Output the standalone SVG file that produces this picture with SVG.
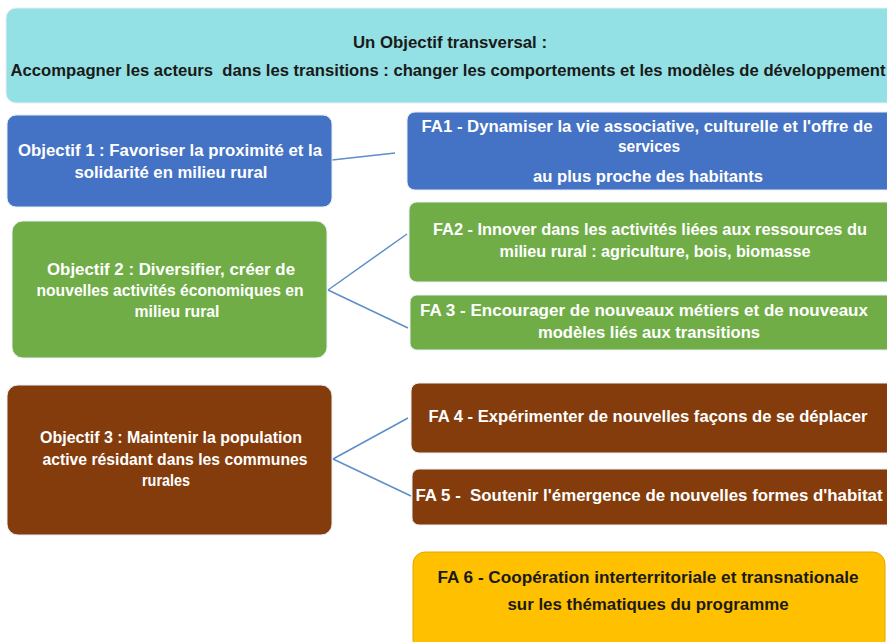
<svg xmlns="http://www.w3.org/2000/svg" width="887" height="642" viewBox="0 0 887 642">
<style>
text{font-family:"Liberation Sans",Arial,sans-serif;font-weight:bold;font-size:16px;text-anchor:middle;white-space:pre}
.w{fill:#ffffff}
.d{fill:#1a1a1a}
.box{stroke:#e8eef6;stroke-width:1}
.conn{stroke:#5b8fc9;stroke-width:1.5;fill:none}
</style>
<rect width="887" height="642" fill="#ffffff"/>
<g id="transversal">
<rect class="box" x="6" y="8" width="890" height="95" rx="10" fill="#93e1e4"/>
<text class="d" x="450" y="48" textLength="194" lengthAdjust="spacingAndGlyphs">Un Objectif transversal :</text>
<text class="d" x="448" y="76" textLength="875" lengthAdjust="spacingAndGlyphs" xml:space="preserve">Accompagner les acteurs  dans les transitions : changer les comportements et les modèles de développement</text>
</g>
<g id="connectors">
<line class="conn" x1="332" y1="160" x2="395" y2="153"/>
<line class="conn" x1="328" y1="290" x2="407" y2="234"/>
<line class="conn" x1="328" y1="290" x2="408" y2="328"/>
<line class="conn" x1="333" y1="459" x2="408" y2="418"/>
<line class="conn" x1="333" y1="459" x2="411" y2="496"/>
</g>
<g id="obj1">
<rect class="box" x="7" y="115" width="325" height="92" rx="9" fill="#4472c4"/>
<text class="w" x="170" y="156" textLength="304" lengthAdjust="spacingAndGlyphs">Objectif 1 : Favoriser la proximité et la</text>
<text class="w" x="171" y="178" textLength="193" lengthAdjust="spacingAndGlyphs">solidarité en milieu rural</text>
</g>
<g id="obj2">
<rect class="box" x="12" y="221" width="315" height="137" rx="11" fill="#70ad47"/>
<text class="w" x="171" y="275" textLength="248" lengthAdjust="spacingAndGlyphs">Objectif 2 : Diversifier, créer de</text>
<text class="w" x="170" y="296" textLength="267" lengthAdjust="spacingAndGlyphs">nouvelles activités économiques en</text>
<text class="w" x="177" y="317" textLength="85" lengthAdjust="spacingAndGlyphs">milieu rural</text>
</g>
<g id="obj3">
<rect class="box" x="7" y="385" width="325" height="150" rx="11" fill="#843c0c"/>
<text class="w" x="171" y="443" textLength="262" lengthAdjust="spacingAndGlyphs">Objectif 3 : Maintenir la population</text>
<text class="w" x="175" y="465" textLength="265" lengthAdjust="spacingAndGlyphs">active résidant dans les communes</text>
<text class="w" x="166" y="486" textLength="48" lengthAdjust="spacingAndGlyphs">rurales</text>
</g>
<g id="fa1">
<rect class="box" x="407" y="112" width="490" height="78" rx="8" fill="#4472c4"/>
<text class="w" x="647" y="132" textLength="451" lengthAdjust="spacingAndGlyphs">FA1 - Dynamiser la vie associative, culturelle et l'offre de</text>
<text class="w" x="649" y="152" textLength="62" lengthAdjust="spacingAndGlyphs">services</text>
<text class="w" x="648" y="182" textLength="230" lengthAdjust="spacingAndGlyphs">au plus proche des habitants</text>
</g>
<g id="fa2">
<rect class="box" x="409" y="202" width="490" height="80" rx="8" fill="#70ad47"/>
<text class="w" x="650" y="235" textLength="434" lengthAdjust="spacingAndGlyphs">FA2 - Innover dans les activités liées aux ressources du</text>
<text class="w" x="655" y="257" textLength="311" lengthAdjust="spacingAndGlyphs">milieu rural : agriculture, bois, biomasse</text>
</g>
<g id="fa3">
<rect class="box" x="410" y="295" width="490" height="55" rx="7" fill="#70ad47"/>
<text class="w" x="644" y="316" textLength="448" lengthAdjust="spacingAndGlyphs">FA 3 - Encourager de nouveaux métiers et de nouveaux</text>
<text class="w" x="649" y="338" textLength="222" lengthAdjust="spacingAndGlyphs">modèles liés aux transitions</text>
</g>
<g id="fa4">
<rect class="box" x="411" y="383" width="490" height="70" rx="8" fill="#843c0c"/>
<text class="w" x="648" y="422" textLength="439" lengthAdjust="spacingAndGlyphs">FA 4 - Expérimenter de nouvelles façons de se déplacer</text>
</g>
<g id="fa5">
<rect class="box" x="412" y="469" width="490" height="56" rx="7" fill="#843c0c"/>
<text class="w" x="649" y="501" textLength="467" lengthAdjust="spacingAndGlyphs" xml:space="preserve">FA 5 -  Soutenir l'émergence de nouvelles formes d'habitat</text>
</g>
<g id="fa6">
<rect x="413" y="552" width="472" height="100" rx="12" fill="#ffc000" stroke="#e0a800" stroke-width="1"/>
<text class="d" x="648" y="583" textLength="421" lengthAdjust="spacingAndGlyphs">FA 6 - Coopération interterritoriale et transnationale</text>
<text class="d" x="648" y="610" textLength="281" lengthAdjust="spacingAndGlyphs">sur les thématiques du programme</text>
</g>
</svg>
